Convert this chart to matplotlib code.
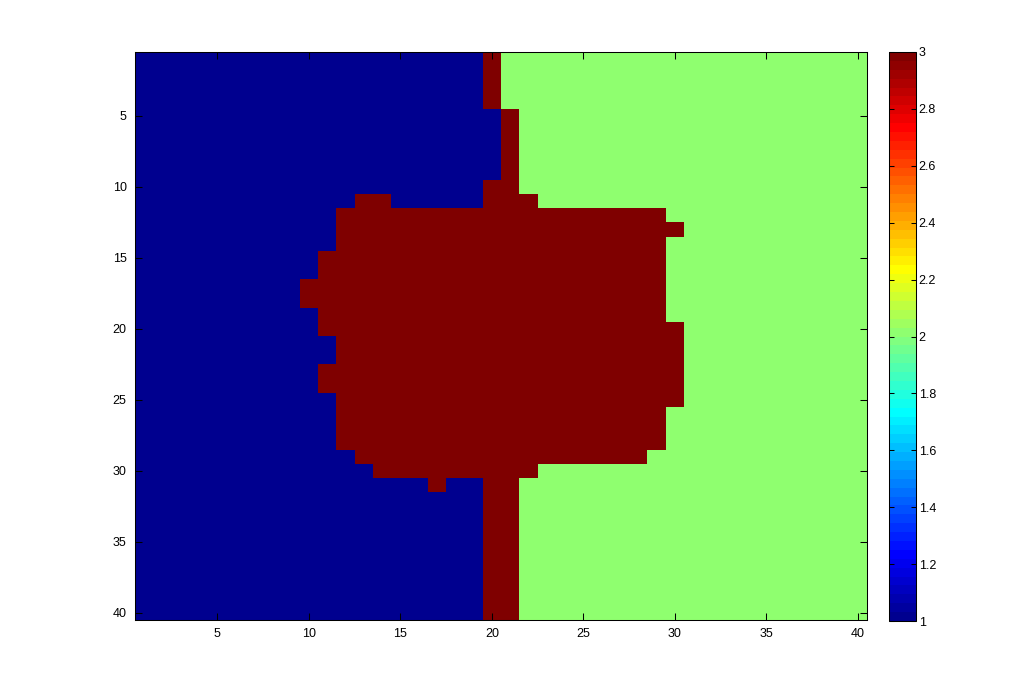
import numpy as np
import matplotlib
matplotlib.use('Agg')
import matplotlib.pyplot as plt
from matplotlib.colors import ListedColormap

# label map 40x40: class 1 on the left, 3 in the middle, 2 on the right
# last column of class 1 for each row (rows 1..40)
left_end = [19, 19, 19, 19, 20, 20, 20, 20, 20, 19,
            12, 11, 11, 11, 10, 10, 9, 9, 10, 10,
            11, 11, 10, 10, 11, 11, 11, 11, 12, 13,
            16, 19, 19, 19, 19, 19, 19, 19, 19, 19]
# last column of class 3 for each row
red_end = [20, 20, 20, 20, 21, 21, 21, 21, 21, 21,
           22, 29, 30, 29, 29, 29, 29, 29, 29, 30,
           30, 30, 30, 30, 30, 29, 29, 29, 28, 22,
           21, 21, 21, 21, 21, 21, 21, 21, 21, 21]
# (row, first col, last col) of class 1 inside the class 3 run
blue_patches = [(11, 15, 19), (31, 18, 19)]

cb_ticks = [1, 1.2, 1.4, 1.6, 1.8, 2, 2.2, 2.4, 2.6, 2.8, 3]
ax_ticks = [5, 10, 15, 20, 25, 30, 35, 40]

n = 40
cols = np.arange(1, n + 1)
M = np.zeros((n, n))
for r in range(n):
    M[r] = np.where(cols <= left_end[r], 1, np.where(cols <= red_end[r], 3, 2))
for r, c0, c1 in blue_patches:
    M[r - 1, c0 - 1:c1] = 1


def matlab_jet(m=64):
    # same recipe as matlab's jet.m
    k = int(np.ceil(m / 4))
    u = np.concatenate([np.arange(1, k + 1) / k, np.ones(k - 1), np.arange(k, 0, -1) / k])
    g = int(np.ceil(k / 2)) - (1 if m % 4 == 1 else 0) + np.arange(1, len(u) + 1)
    r = g + k
    b = g - k
    J = np.zeros((m, 3))
    for idx, ch in ((r, 0), (g, 1), (b, 2)):
        ok = (idx >= 1) & (idx <= m)
        J[idx[ok] - 1, ch] = u[ok]
    return ListedColormap(J)


cmap = matlab_jet(64)

plt.rcParams['font.family'] = ['Liberation Sans', 'DejaVu Sans']
plt.rcParams['font.size'] = 9

fig = plt.figure(figsize=(10.35, 6.96), dpi=100)
W, H = 1035, 696
ax = fig.add_axes([135 / W, 1 - 620 / H, (867 - 135) / W, (620 - 52) / H])
im = ax.imshow(M, cmap=cmap, vmin=1, vmax=3, extent=(0.5, n + 0.5, n + 0.5, 0.5),
               aspect='auto', interpolation='nearest')
ax.set_xticks(ax_ticks)
ax.set_yticks(ax_ticks)
ax.tick_params(direction='in', length=5, width=0.75, top=True, right=True, pad=6)
for s in ax.spines.values():
    s.set_linewidth(0.75)

cax = fig.add_axes([889 / W, 1 - 621 / H, 27 / W, (621 - 52) / H])
cb = fig.colorbar(im, cax=cax, ticks=cb_ticks)
cb.ax.set_yticklabels(['%g' % t for t in cb_ticks])
cb.ax.tick_params(direction='in', length=3.5, width=0.75, left=True, right=True, pad=2)
cb.outline.set_linewidth(0.75)

fig.savefig('out.png', dpi=100)
